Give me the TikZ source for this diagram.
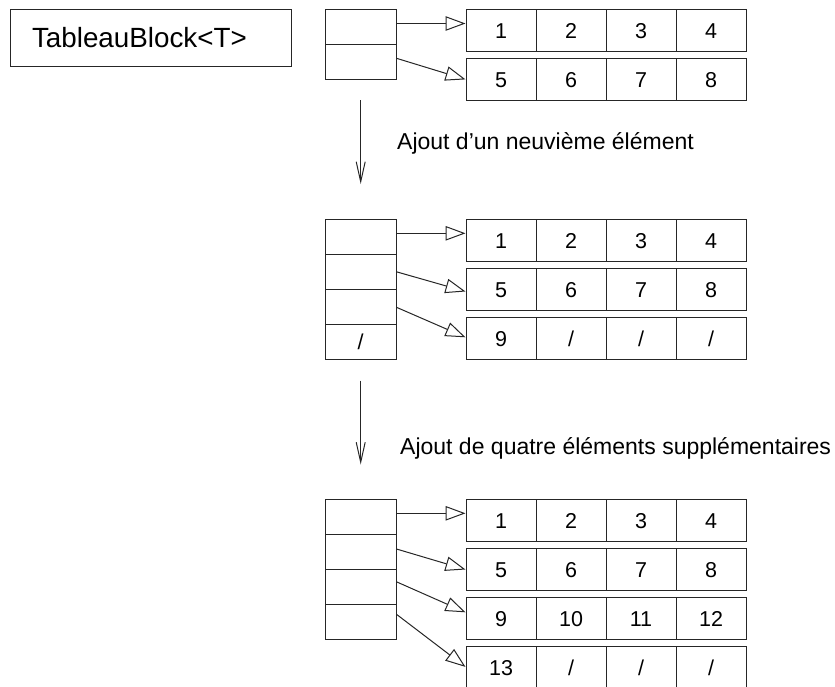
\documentclass[tikz,border=0pt]{standalone}
\usepackage{fontspec}
\setmainfont{Liberation Sans}
\usetikzlibrary{arrows.meta}
\begin{document}
\begin{tikzpicture}[x=1pt,y=-1pt,
  ln/.style={draw=black!85,line width=1pt},
  ptr/.style={ln,rectangle,minimum width=71pt,minimum height=35pt,inner sep=0pt,font=\fontsize{21.5}{24}\selectfont},
  cell/.style={ln,rectangle,minimum width=70pt,minimum height=42.4pt,inner sep=0pt,text height=15.4pt,text depth=0pt,font=\fontsize{21.5}{24}\selectfont},
  link/.style={ln,-{Triangle[open,length=20pt,width=14.5pt]}},
  step arrow/.style={ln,-{Straight Barb[length=20pt,width=9pt]}},
  lbl/.style={anchor=base west,inner sep=0pt,font=\fontsize{23}{26}\selectfont}
]
\useasboundingbox (0,0) rectangle (835,686);

% title
\node[ln,rectangle,text width=237pt,inner xsep=22pt,minimum height=57pt,align=left,
      font=\fontsize{27.8}{30}\selectfont] (title) at (150.5,37.5) {TableauBlock<T>};

% ---------- section A ----------
\node[ptr] (pA1) at (360.5,26.8) {};
\node[ptr] (pA2) at (360.5,61.8) {};
\foreach \v [count=\i] in {1,2,3,4} \node[cell] (dA1\i) at ({501+(\i-1)*70},30.5) {\v};
\foreach \v [count=\i] in {5,6,7,8} \node[cell] (dA2\i) at ({501+(\i-1)*70},79.4) {\v};
\draw[link] ([yshift=3.3pt]pA1.east) -- ([yshift=3.3pt]pA1.east -| dA11.west);
\draw[link] ([yshift=3.5pt]pA2.east) -- (dA21.west);

% step 1
\coordinate (s1a) at (360.7,100);
\coordinate (s1b) at (360.7,184);
\draw[step arrow] (s1a) -- (s1b);
\node[lbl] (l1) at (397,149.3) {Ajout d’un neuvième élément};

% ---------- section B ----------
\foreach \i in {1,2,3,4} \node[ptr] (pB\i) at (360.5,{219.3+17.5+(\i-1)*35}) {};
\node[font=\fontsize{21.5}{24}\selectfont] (pB4t) at (pB4) {/};
\foreach \v [count=\i] in {1,2,3,4} \node[cell] (dB1\i) at ({501+(\i-1)*70},240.5) {\v};
\foreach \v [count=\i] in {5,6,7,8} \node[cell] (dB2\i) at ({501+(\i-1)*70},289.5) {\v};
\foreach \v [count=\i] in {9,/,/,/} \node[cell] (dB3\i) at ({501+(\i-1)*70},338.3) {\v};
\draw[link] ([yshift=3.5pt]pB1.east) -- ([yshift=3.5pt]pB1.east -| dB11.west);
\draw[link] (pB2.east) -- ([yshift=-2pt]dB21.west);
\draw[link] ([yshift=-0.5pt]pB3.east) -- ([yshift=1pt]dB31.west);

% step 2
\coordinate (s2a) at (360.7,380.7);
\coordinate (s2b) at (360.7,464.5);
\draw[step arrow] (s2a) -- (s2b);
\node[lbl] (l2) at (400,454.3) {Ajout de quatre éléments supplémentaires};

% ---------- section C ----------
\foreach \i in {1,2,3,4} \node[ptr] (pC\i) at (360.5,{499.3+17.5+(\i-1)*35}) {};
\foreach \v [count=\i] in {1,2,3,4} \node[cell] (dC1\i) at ({501+(\i-1)*70},520.5) {\v};
\foreach \v [count=\i] in {5,6,7,8} \node[cell] (dC2\i) at ({501+(\i-1)*70},569.5) {\v};
\foreach \v [count=\i] in {9,10,11,12} \node[cell] (dC3\i) at ({501+(\i-1)*70},618.3) {\v};
\foreach \v [count=\i] in {13,/,/,/} \node[cell] (dC4\i) at ({501+(\i-1)*70},667.9) {\v};
\draw[link] ([yshift=3.5pt]pC1.east) -- ([yshift=3.5pt]pC1.east -| dC11.west);
\draw[link] ([yshift=2.8pt]pC2.east) -- (dC21.west);
\draw[link] ([yshift=5pt]pC3.east) -- ([yshift=6pt]dC31.west);
\draw[link] ([yshift=7.5pt]pC4.east) -- ([yshift=1pt]dC41.west);
\end{tikzpicture}
\end{document}
